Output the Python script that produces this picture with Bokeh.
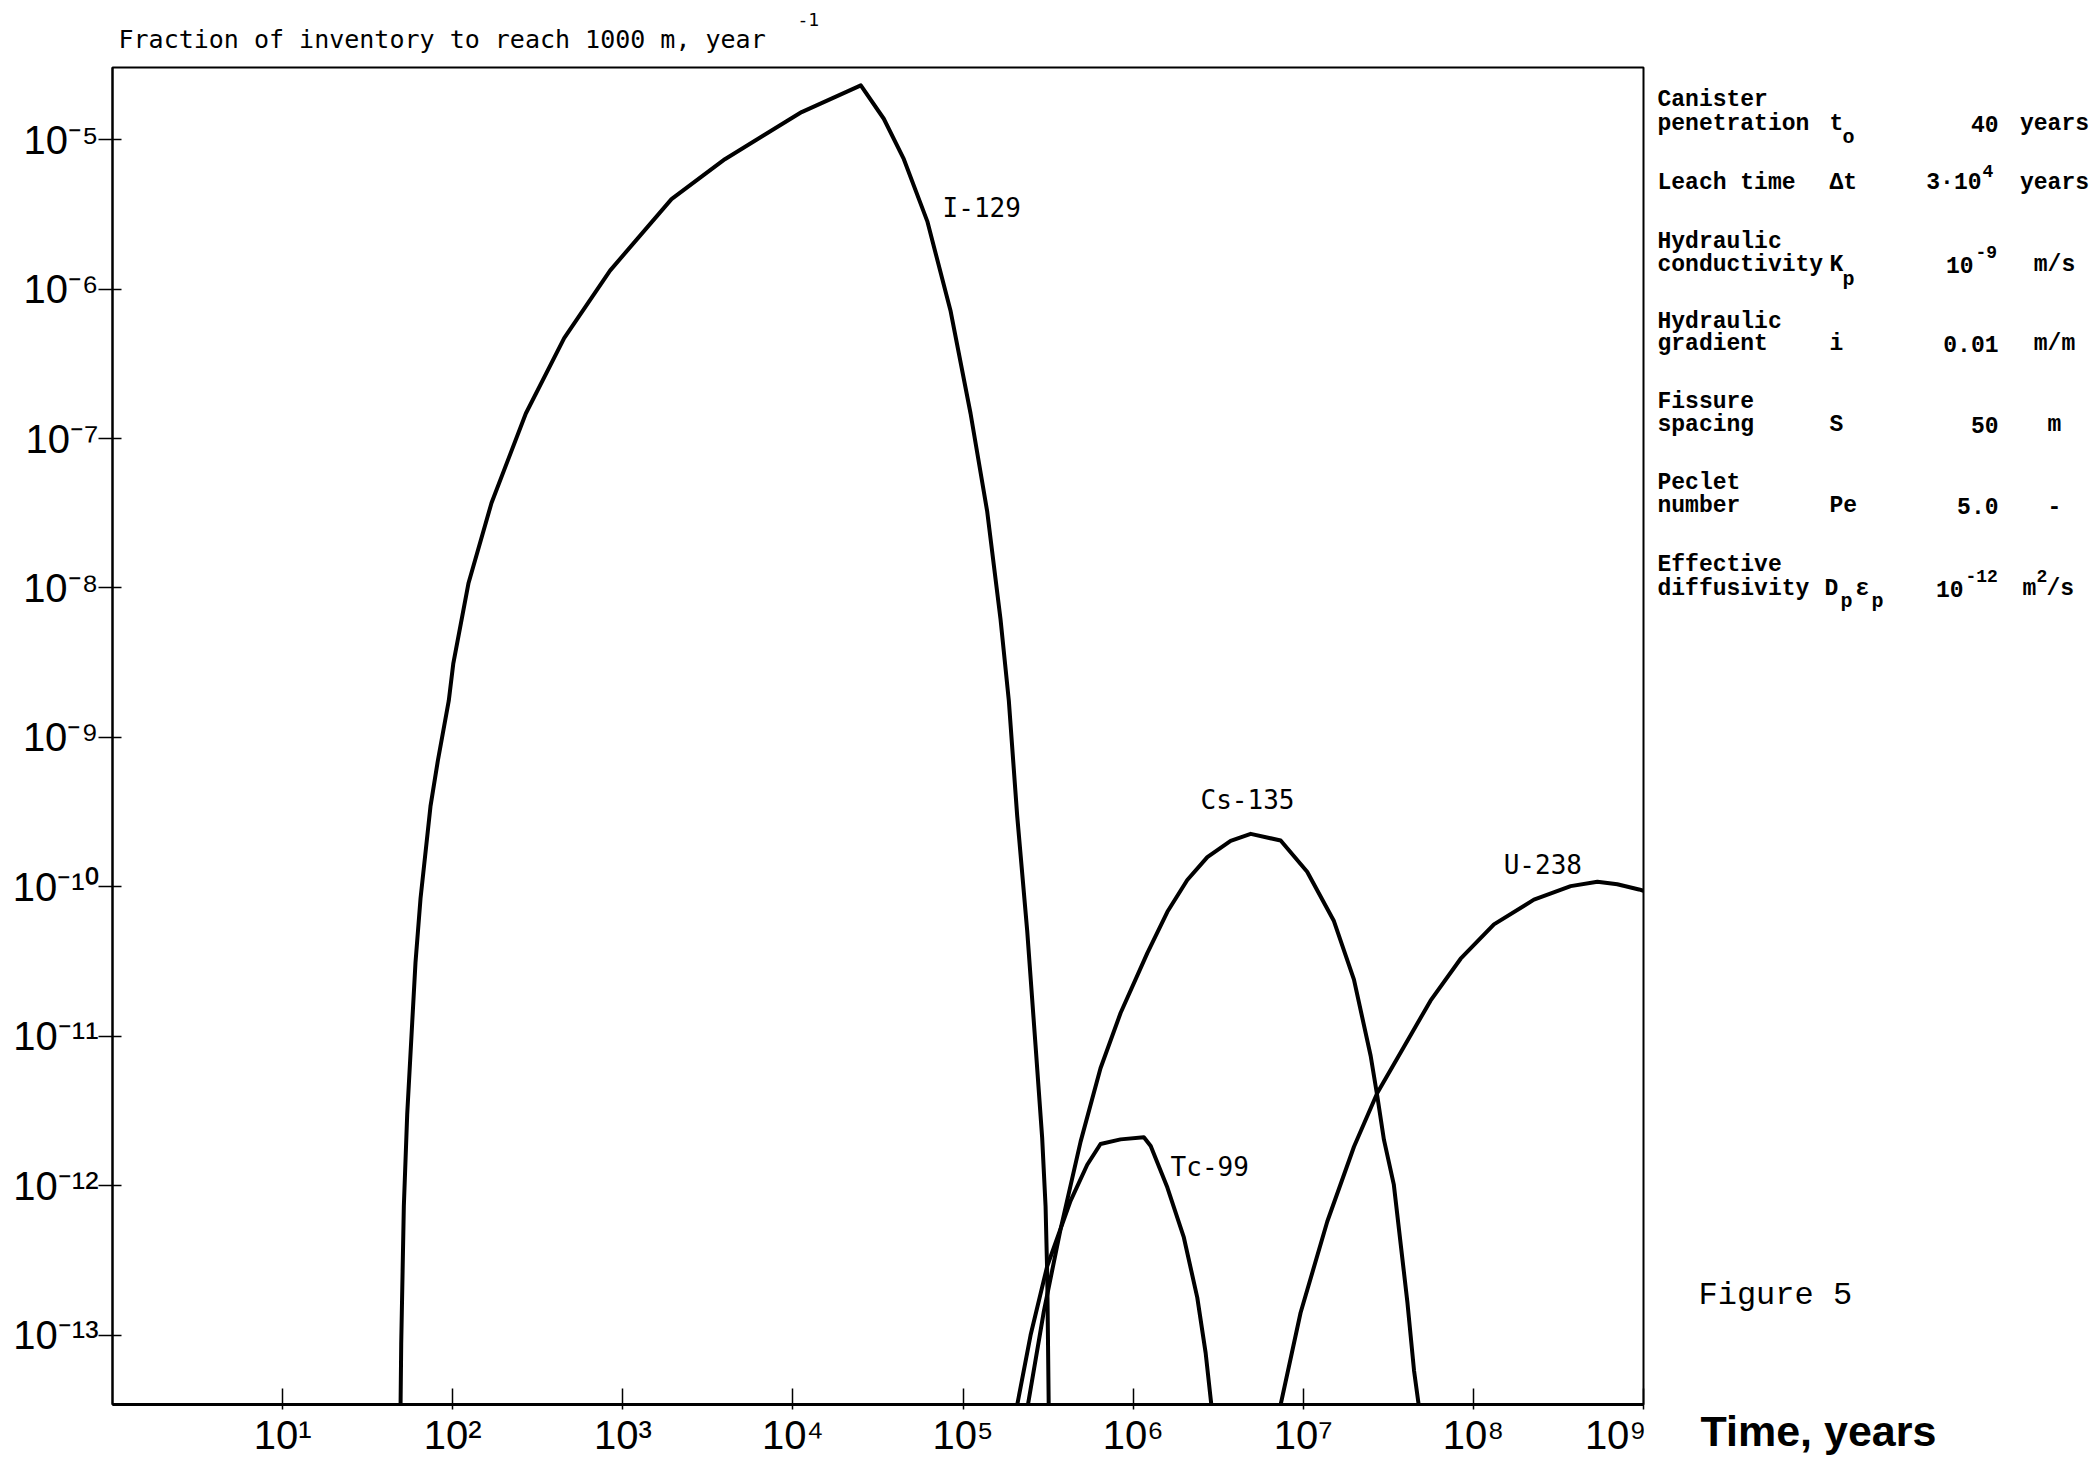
from bokeh.plotting import figure
from bokeh.models import Label, FixedTicker, Range1d, Title
from bokeh.layouts import row, column
from bokeh.core.properties import value
from bokeh.embed import file_html
from bokeh.resources import INLINE

# ---------------- data ----------------
i129_t = [49.3, 49.8, 51.6, 54.0, 57.8, 60.4, 64.7, 74.0, 81.8, 94.8,
          100.7, 123.9, 169, 269, 452, 841, 1932, 3981, 11250, 25060,
          34200, 44870, 61660, 84330, 110700, 138700, 166000, 185800, 208000, 238200,
          266700, 291700, 305500, 312600, 319200]
i129_f = [3.0e-14, 8.7e-14, 7.3e-13, 3.0e-12, 1.24e-11, 3.1e-11, 8.4e-11, 3.45e-10, 7.0e-10, 1.76e-9,
          3.1e-9, 1.08e-8, 3.7e-8, 1.47e-7, 4.7e-7, 1.33e-6, 4.0e-6, 7.4e-6, 1.53e-5, 2.31e-5,
          1.38e-5, 7.4e-6, 2.84e-6, 7.2e-7, 1.47e-7, 3.24e-8, 6.2e-9, 1.76e-9, 3.0e-10, 5.1e-11,
          8.7e-12, 2.1e-12, 7.3e-13, 2.5e-13, 3.0e-14]

tc99_t = [203700, 249500, 312600, 428500, 537000, 642700, 843300, 1156000, 1268000, 1589000,
          1986000, 2382000, 2667000, 2917000]
tc99_f = [3.0e-14, 1.0e-13, 2.9e-13, 7.9e-13, 1.38e-12, 1.9e-12, 2.04e-12, 2.11e-12, 1.84e-12, 9.7e-13,
          4.5e-13, 1.78e-13, 7.6e-14, 3.0e-14]

cs135_t = [236000, 298500, 374100, 490900, 642700, 843300, 1211000, 1589000, 2080000, 2729000,
           3741000, 4909000, 7362000, 10540000, 15140000, 19860000, 24890000, 27230000, 29790000, 34040000,
           40930000, 44770000, 48420000]
cs135_f = [3.0e-14, 1.44e-13, 5.1e-13, 1.97e-12, 6.1e-12, 1.43e-11, 3.6e-11, 6.8e-11, 1.11e-10, 1.58e-10,
           2.03e-10, 2.26e-10, 2.04e-10, 1.26e-10, 5.9e-11, 2.39e-11, 7.4e-12, 3.98e-12, 2.03e-12, 1.02e-12,
           1.66e-13, 5.8e-14, 3.0e-14]

u238_t = [7178000, 9640000, 13840000, 19860000, 27230000, 39080000, 55980000, 84140000, 132100000, 227000000,
          373300000, 535800000, 701500000, 939700000, 1.0e9]
u238_f = [3.0e-14, 1.41e-13, 5.75e-13, 1.82e-12, 4.17e-12, 8.5e-12, 1.73e-11, 3.3e-11, 5.6e-11, 8.2e-11,
          1.01e-10, 1.08e-10, 1.04e-10, 9.6e-11, 9.4e-11]

curve_names = ["I-129", "Cs-135", "Tc-99", "U-238"]
curve_label_t = [7.58e4, 2.49e6, 1.66e6, 1.507e8]
curve_label_f = [3.5e-6, 3.82e-10, 1.34e-12, 1.40e-10]

x_tick_exps = [1, 2, 3, 4, 5, 6, 7, 8, 9]
y_tick_exps = [-5, -6, -7, -8, -9, -10, -11, -12, -13]

title_text = "Fraction of inventory to reach 1000 m, year"
title_sup = "-1"
x_axis_title = "Time, years"
figure_caption = "Figure 5"

param_names = [["Canister", "penetration"], ["Leach time"], ["Hydraulic", "conductivity"],
               ["Hydraulic", "gradient"], ["Fissure", "spacing"], ["Peclet", "number"],
               ["Effective", "diffusivity"]]

X_MIN, X_MAX = 1.0, 1.0e9
Y_MIN, Y_MAX = 3.43e-14, 3.04e-5

SUP = str.maketrans("-0123456789", "\u207b\u2070\u00b9\u00b2\u00b3\u2074\u2075\u2076\u2077\u2078\u2079")


def pow10_label(e):
    return "10" + str(e).translate(SUP)


# ---------------- layout (pixels) ----------------
W, H = 2096, 1462
TOP_H = 62              # title strip
MAIN_W = 1646           # main figure width (frame right edge at 1643)
FL, FT_IN, FB = 112, 5, 58
MAIN_H = H - TOP_H
FRAME_TOP, FRAME_BOTTOM = TOP_H + FT_IN, H - FB

p = figure(width=MAIN_W, height=MAIN_H, x_axis_type="log", y_axis_type="log",
           x_range=Range1d(X_MIN, X_MAX), y_range=Range1d(Y_MIN, Y_MAX),
           output_backend="svg", toolbar_location=None,
           min_border_left=FL, min_border_right=3,
           min_border_top=FT_IN, min_border_bottom=FB)
p.background_fill_color = "white"
p.border_fill_color = "white"
p.outline_line_color = "black"
p.outline_line_width = 2
p.xgrid.visible = False
p.ygrid.visible = False

xt = [10.0 ** e for e in x_tick_exps]
yt = [10.0 ** e for e in y_tick_exps]
p.xaxis.ticker = FixedTicker(ticks=xt)
p.yaxis.ticker = FixedTicker(ticks=yt)
p.xaxis.major_label_overrides = {t: pow10_label(e) for t, e in zip(xt, x_tick_exps)}
p.yaxis.major_label_overrides = {t: pow10_label(e) for t, e in zip(yt, y_tick_exps)}
for ax in (p.xaxis[0], p.yaxis[0]):
    ax.major_label_text_font = "Liberation Sans"
    ax.major_label_text_font_size = "40px"
    ax.major_label_text_color = "black"
    ax.minor_tick_line_color = None
    ax.axis_line_color = "black"
    ax.major_tick_line_color = "black"
    ax.major_tick_line_width = 1.5
p.xaxis.axis_line_width = 3
p.yaxis.axis_line_width = 2
p.xaxis.major_tick_in = 16
p.xaxis.major_tick_out = 5
p.xaxis.major_label_standoff = 3
p.yaxis.major_tick_in = 9
p.yaxis.major_tick_out = 14
p.yaxis.major_label_standoff = 0

# ---------------- curves ----------------
for t, f in ((i129_t, i129_f), (tc99_t, tc99_f), (cs135_t, cs135_f), (u238_t, u238_f)):
    p.line(t, f, line_color="black", line_width=4, line_join="round")

for name, lt, lf in zip(curve_names, curve_label_t, curve_label_f):
    p.add_layout(Label(x=lt, y=lf, text=name, text_align="left", text_baseline="middle",
                       text_font="DejaVu Sans Mono", text_font_size="26px", text_color="black"))


# ---------------- helper strips with pixel coordinates ----------------
def strip(x0, x1, y0, y1, fy0, fy1, bt=0, bb=0):
    f = figure(width=x1 - x0, height=y1 - y0, x_range=Range1d(x0, x1), y_range=Range1d(fy1, fy0),
               output_backend="svg", toolbar_location=None,
               x_axis_location=None, y_axis_location=None,
               min_border=0, min_border_left=0, min_border_right=0,
               min_border_top=bt, min_border_bottom=bb)
    f.outline_line_color = None
    f.xgrid.visible = False
    f.ygrid.visible = False
    f.background_fill_color = "white"
    f.border_fill_color = "white"
    return f


def txt(f, X, Y, s, size, font="Liberation Mono", style="normal", align="left"):
    f.text(x=[X], y=[Y], text=[s], text_font=value(font), text_font_size=f"{size}px",
           text_font_style=style, text_align=align, text_baseline="alphabetic", text_color="black")


top = strip(0, W, 0, TOP_H, 0, TOP_H)
txt(top, 118, 39, title_text, 25, font="DejaVu Sans Mono")
txt(top, 797, 19, title_sup, 18, font="DejaVu Sans Mono")

# right strip: its frame is aligned with the main frame (rows align plot frames)
rt = strip(MAIN_W, W, TOP_H, H, FRAME_TOP, FRAME_BOTTOM, bt=FT_IN, bb=FB)
rt.add_layout(Title(text=x_axis_title, align="left", offset=1700 - MAIN_W, vertical_align="bottom",
                    standoff=0, text_font="Liberation Sans", text_font_style="bold",
                    text_font_size="43px", text_color="black"), "below")
txt(rt, 1698, 1295, figure_caption, 32, font="Liberation Mono")

TB = "bold"
MS = 23
label_baselines = [[99, 123], [182], [241, 264], [321, 343], [401, 424], [482, 505], [564, 588]]
for names, bls in zip(param_names, label_baselines):
    for nm, bl in zip(names, bls):
        txt(rt, 1657, bl, nm, MS, style=TB)

SX, VR, UC = 1829, 1998, 2054
# row 1
b = 123
txt(rt, SX, b, "t", MS, style=TB); txt(rt, SX + 13, b + 14, "o", 20, style=TB)
txt(rt, VR, b, "40", MS, style=TB, align="right"); txt(rt, UC, b, "years", MS, style=TB, align="center")
# row 2
b = 182
txt(rt, SX, b, "\u0394t", MS, style=TB)
txt(rt, 1981, b, "3\u00b710", MS, style=TB, align="right"); txt(rt, 1982, b - 12, "4", 18, style=TB)
txt(rt, UC, b, "years", MS, style=TB, align="center")
# row 3
b = 264
txt(rt, SX, b, "K", MS, style=TB); txt(rt, SX + 13, b + 15, "p", 20, style=TB)
txt(rt, 1973, b, "10", MS, style=TB, align="right"); txt(rt, 1975, b - 13, "-9", 18, style=TB)
txt(rt, UC, b, "m/s", MS, style=TB, align="center")
# row 4
b = 343
txt(rt, SX, b, "i", MS, style=TB)
txt(rt, VR, b, "0.01", MS, style=TB, align="right"); txt(rt, UC, b, "m/m", MS, style=TB, align="center")
# row 5
b = 424
txt(rt, SX, b, "S", MS, style=TB)
txt(rt, VR, b, "50", MS, style=TB, align="right"); txt(rt, UC, b, "m", MS, style=TB, align="center")
# row 6
b = 505
txt(rt, SX, b, "Pe", MS, style=TB)
txt(rt, VR, b, "5.0", MS, style=TB, align="right"); txt(rt, UC, b, "-", MS, style=TB, align="center")
# row 7
b = 588
txt(rt, 1824, b, "D", MS, style=TB); txt(rt, 1840, b + 13, "p", 20, style=TB)
txt(rt, 1855, b, "\u03b5", MS, style=TB); txt(rt, 1871, b + 13, "p", 20, style=TB)
txt(rt, 1963, b, "10", MS, style=TB, align="right"); txt(rt, 1965, b - 13, "-12", 18, style=TB)
txt(rt, 2022, b, "m", MS, style=TB); txt(rt, 2036, b - 13, "2", 18, style=TB); txt(rt, 2046, b, "/s", MS, style=TB)

layout = column(top, row(p, rt, spacing=0), spacing=0)
open("out.html", "w").write(file_html(layout, INLINE))
